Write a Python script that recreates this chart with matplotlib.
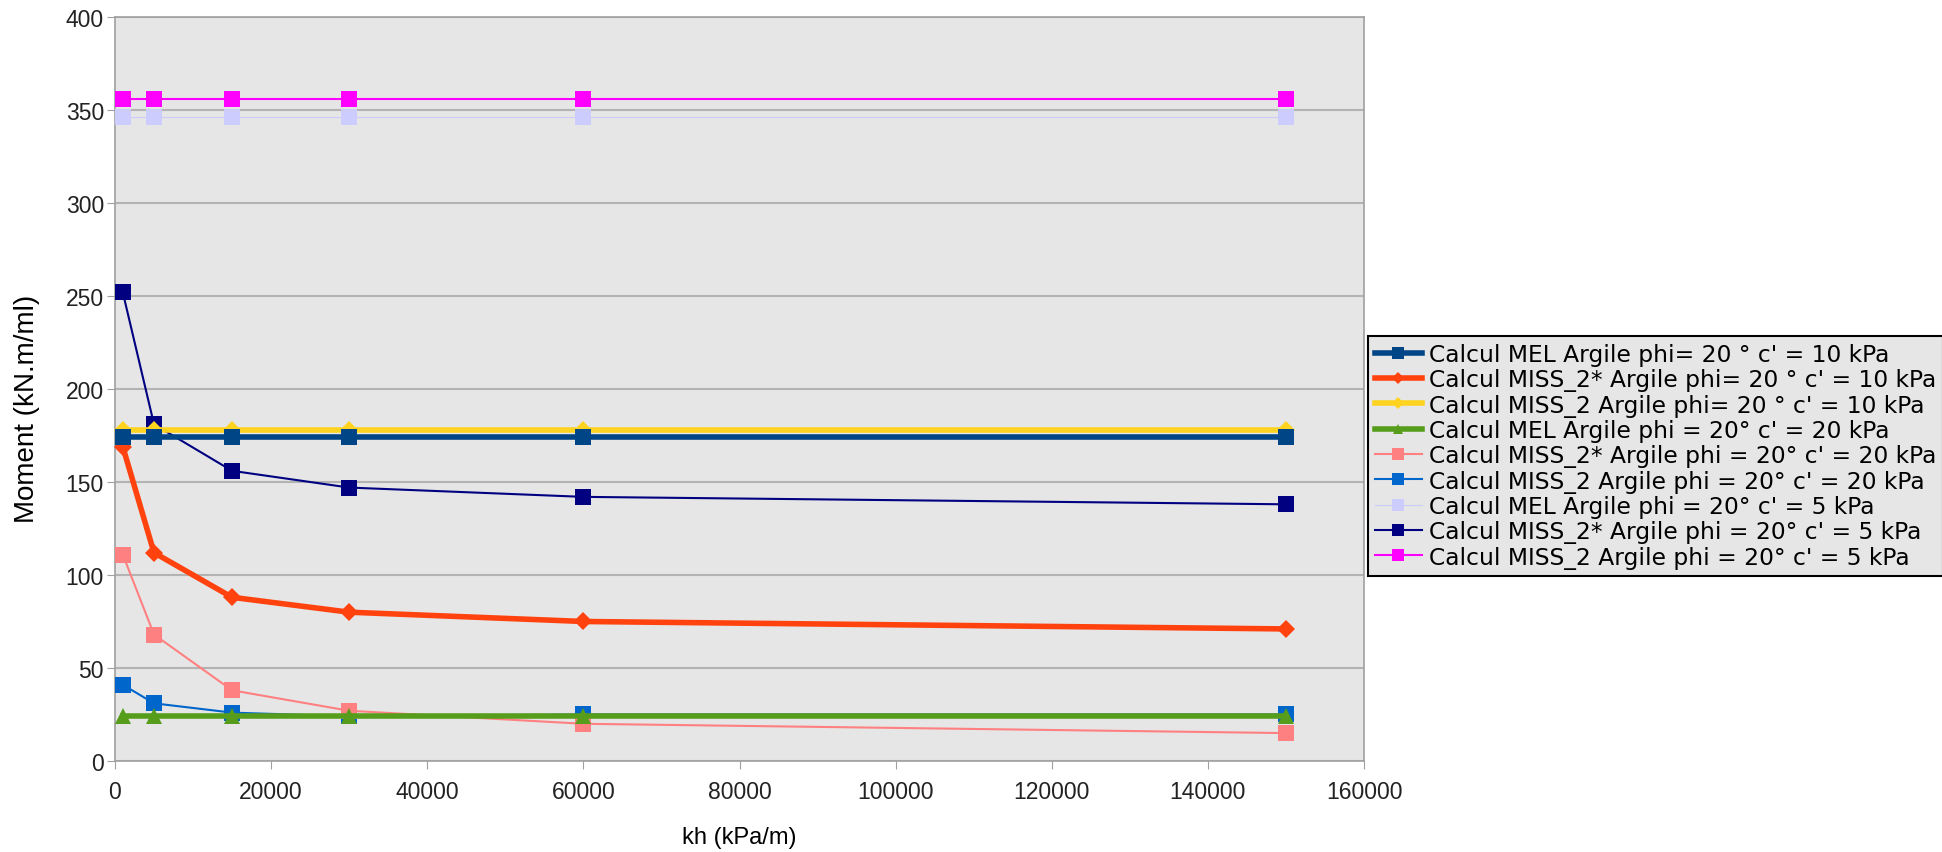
import matplotlib
matplotlib.use("Agg")
import matplotlib.pyplot as plt

plt.rcParams['font.family'] = ['Liberation Sans', 'DejaVu Sans']

# kh values (kPa/m)
kh = [1000, 5000, 15000, 30000, 60000, 150000]

# moments (kN.m/ml) per series
mel_c10 = [174, 174, 174, 174, 174, 174]
miss2s_c10 = [169, 112, 88, 80, 75, 71]
miss2_c10 = [178, 178, 178, 178, 178, 178]
mel_c20 = [24, 24, 24, 24, 24, 24]
miss2s_c20 = [111, 68, 38, 27, 20, 15]
miss2_c20 = [41, 31, 26, 24, 25, 25]
mel_c5 = [346, 346, 346, 346, 346, 346]
miss2s_c5 = [252, 181, 156, 147, 142, 138]
miss2_c5 = [356, 356, 356, 356, 356, 356]

labels = [
    "Calcul MEL Argile phi= 20 ° c' = 10 kPa",
    "Calcul MISS_2* Argile phi= 20 ° c' = 10 kPa",
    "Calcul MISS_2 Argile phi= 20 ° c' = 10 kPa",
    "Calcul MEL Argile phi = 20° c' = 20 kPa",
    "Calcul MISS_2* Argile phi = 20° c' = 20 kPa",
    "Calcul MISS_2 Argile phi = 20° c' = 20 kPa",
    "Calcul MEL Argile phi = 20° c' = 5 kPa",
    "Calcul MISS_2* Argile phi = 20° c' = 5 kPa",
    "Calcul MISS_2 Argile phi = 20° c' = 5 kPa",
]
series = [mel_c10, miss2s_c10, miss2_c10, mel_c20, miss2s_c20,
          miss2_c20, mel_c5, miss2s_c5, miss2_c5]
colors = ['#004586', '#ff420e', '#ffd320', '#579d1c', '#ff8080',
          '#0066cc', '#ccccff', '#000080', '#ff00ff']
markers = ['s', 'D', 'D', '^', 's', 's', 's', 's', 's']
msizes = [12, 9, 9, 11, 12, 12, 12, 12, 12]
widths = [4, 4, 4, 4, 1.5, 1.5, 0.8, 1.5, 1.5]

fig = plt.figure(figsize=(19.42, 8.53), dpi=100)
ax = fig.add_axes([0.0592, 0.1067, 0.6432, 0.8722])
ax.set_facecolor('#e6e6e6')

for i, (vals, lab) in enumerate(zip(series, labels)):
    ax.plot(kh, vals, color=colors[i], lw=widths[i], marker=markers[i],
            markersize=msizes[i], markeredgewidth=0, label=lab,
            zorder=20 - i, clip_on=False)

ax.set_xlim(0, 160000)
ax.set_ylim(0, 400)
ax.set_xticks(range(0, 160001, 20000))
ax.set_yticks(range(0, 401, 50))
ax.tick_params(axis='both', labelsize=16.5, direction='out', length=6,
               color='#a0a0a0', labelcolor='#222222')
ax.tick_params(axis='y', pad=2)
ax.tick_params(axis='x', pad=8)
ax.grid(axis='y', color='#b3b3b3', lw=1.5, zorder=1)
ax.set_axisbelow(True)
for s in ax.spines.values():
    s.set_color('#a0a0a0')
    s.set_linewidth(1.2)

ax.set_xlabel('kh (kPa/m)', fontsize=17, labelpad=16)
ax.set_ylabel('Moment (kN.m/ml)', fontsize=20)
ax.yaxis.set_label_coords(-0.060, 0.474)

leg = ax.legend(loc='upper left', bbox_to_anchor=(0.7044, 0.605),
                bbox_transform=fig.transFigure, borderaxespad=0,
                prop={'family': 'DejaVu Sans', 'size': 16.8},
                fancybox=False, edgecolor='black',
                facecolor='#e6e6e6', framealpha=1, markerscale=0.7,
                handlelength=2.0, handletextpad=0.3, labelspacing=0.1,
                borderpad=0.3)
leg.get_frame().set_linewidth(1.5)

fig.savefig('out.png', dpi=100, facecolor='white')
